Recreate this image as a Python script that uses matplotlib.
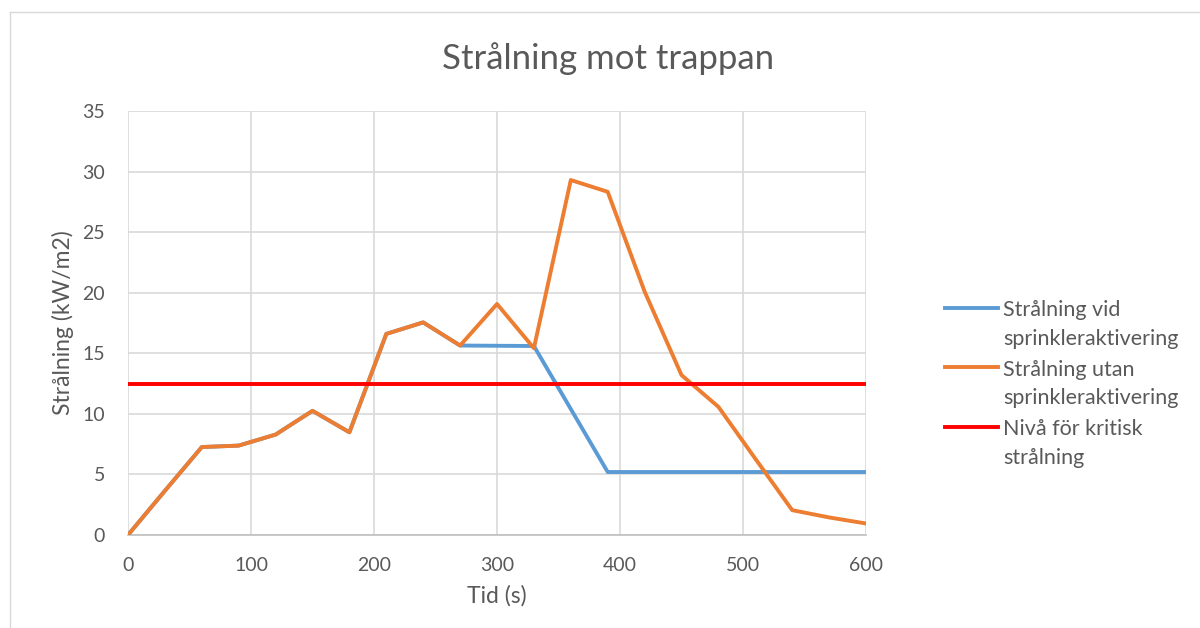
import numpy as np
import matplotlib.pyplot as plt
from matplotlib.lines import Line2D

plt.rcParams['font.family'] = ['Lato', 'DejaVu Sans']

tid = [0, 30, 60, 90, 120, 150, 180, 210, 240, 270, 300, 330, 360, 390, 420,
       450, 480, 510, 540, 570, 600]
med_sprinkler = [0, 3.65, 7.26, 7.38, 8.29, 10.25, 8.48, 16.6, 17.55, 15.64, 15.62, 15.6,
                 10.4, 5.2, 5.2, 5.2, 5.2, 5.2, 5.2, 5.2, 5.2]
utan_sprinkler = [0, 3.65, 7.26, 7.38, 8.29, 10.25, 8.48, 16.6, 17.55, 15.64, 19.07, 15.42,
                  29.3, 28.33, 20.1, 13.2, 10.58, 6.3, 2.05, 1.45, 0.95]
kritisk = 12.5

labels = ['Strålning vid\nsprinkleraktivering',
          'Strålning utan\nsprinkleraktivering',
          'Nivå för kritisk\nstrålning']
colors = ['#5B9BD5', '#ED7D31', '#FF0000']
textc = '#595959'

W, H = 1200, 628
fig = plt.figure(figsize=(12, 6.28), dpi=100)
ax = fig.add_axes([128 / W, 1 - 535 / H, 738 / W, 424 / H])

def fx(px):
    return px / W

def fy(py):
    return 1 - py / H

# chart area border
fig.add_artist(Line2D([fx(10), fx(10)], [0, fy(12)], transform=fig.transFigure,
                      color='#d9d9d9', lw=1))
fig.add_artist(Line2D([fx(10), 1], [fy(12), fy(12)], transform=fig.transFigure,
                      color='#d9d9d9', lw=1))

ax.plot(tid, med_sprinkler, color=colors[0], lw=2.8, solid_joinstyle='round', zorder=3)
ax.plot(tid, utan_sprinkler, color=colors[1], lw=2.8, solid_joinstyle='round', zorder=4)
ax.plot([tid[0], tid[-1]], [kritisk, kritisk], color=colors[2], lw=2.8, zorder=5)

ax.set_xlim(0, 600)
ax.set_ylim(0, 35)
ax.set_xticks(range(0, 601, 100))
ax.set_yticks(range(0, 36, 5))
ax.grid(True, color='#d9d9d9', lw=1.2)
ax.set_axisbelow(True)
for s in ['top', 'right', 'left']:
    ax.spines[s].set_visible(False)
ax.spines['bottom'].set_color('#bfbfbf')
ax.spines['bottom'].set_linewidth(1.2)
ax.tick_params(length=0, labelsize=14, colors=textc)
ax.tick_params(axis='x', pad=16)
ax.tick_params(axis='y', pad=16.5)

ax.set_xlabel('Tid (s)', fontsize=16.5, color=textc, labelpad=8)
ax.set_ylabel('Strålning (kW/m2)', fontsize=16.5, color=textc, labelpad=6)
fig.text(fx(608), fy(69), 'Strålning mot trappan', fontsize=25, color=textc,
         ha='center', va='baseline')

# legend drawn by hand so the marker sits on the first text line, like Excel
for i, (lab, c) in enumerate(zip(labels, colors)):
    yline = 308 + i * 59.5
    fig.add_artist(Line2D([fx(945), fx(998)], [fy(yline), fy(yline)],
                          transform=fig.transFigure, color=c, lw=2.8))
    for j, part in enumerate(lab.split('\n')):
        fig.text(fx(1003), fy(yline + 8 + j * 29), part, fontsize=15.5, color=textc,
                 ha='left', va='baseline')

fig.savefig('out.png', dpi=100)
